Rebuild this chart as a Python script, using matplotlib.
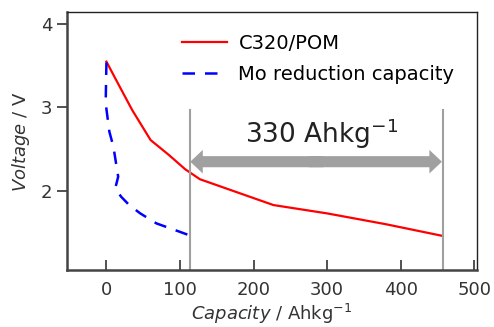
import matplotlib
matplotlib.use("Agg")
import matplotlib.pyplot as plt
from matplotlib.patches import FancyArrowPatch

# C320/POM discharge curve
cap_red = [0, 15, 35, 60, 85, 107, 127, 227, 300, 380, 457]
volt_red = [3.55, 3.30, 2.97, 2.61, 2.43, 2.26, 2.14, 1.83, 1.73, 1.60, 1.46]

# Mo reduction capacity
cap_blue = [0, -1, 4, 9.5, 16, 12, 20, 31, 46, 68, 87, 112]
volt_blue = [3.54, 3.05, 2.71, 2.53, 2.17, 2.03, 1.93, 1.83, 1.73, 1.61, 1.55, 1.47]

x_start, x_end = 113, 457
arrow_y = 2.35
label = "330 Ahkg$^{-1}$"

fig = plt.figure(figsize=(4.94, 3.27), dpi=100)
ax = fig.add_axes([0.135, 0.174, 0.831, 0.788])

ax.plot(cap_red, volt_red, color="#ff0000", lw=1.6, label="C320/POM")
ax.plot(cap_blue, volt_blue, color="#0000ff", lw=1.8, dashes=(5, 4),
        label="Mo reduction capacity")

# capacity range markers
for xv in (x_start, x_end):
    ax.plot([xv, xv], [1.05, 2.97], color="#a0a0a0", lw=1.5)
mid = (x_start + x_end) / 2
style = "simple,tail_width=0.8,head_width=1.7,head_length=0.9"
for start, end in ((mid + 10, x_start + 1), (mid - 10, x_end - 1)):
    ax.add_patch(FancyArrowPatch((start, arrow_y), (end, arrow_y), arrowstyle=style,
                                 mutation_scale=10, color="#a0a0a0", lw=0,
                                 shrinkA=0, shrinkB=0))
ax.text(mid + 8, 2.68, label, ha="center", va="center",
        fontsize=19, color="#222222")

ax.set_xlim(-54, 504)
ax.set_ylim(1.05, 4.14)
ax.set_xticks([0, 100, 200, 300, 400, 500])
ax.set_yticks([2, 3, 4])
ax.tick_params(axis="x", direction="in", length=7, width=1.2, labelsize=13,
               pad=8, colors="#333333")
ax.tick_params(axis="y", direction="out", length=7, width=1.2, labelsize=13,
               colors="#333333")
for s in ("left", "bottom"):
    ax.spines[s].set_linewidth(1.8)
    ax.spines[s].set_color("#444444")
for s in ("top", "right"):
    ax.spines[s].set_linewidth(1.0)
    ax.spines[s].set_color("#222222")

ax.set_ylabel(r"$\it{Voltage}$ / V", fontsize=13, color="#333333", labelpad=6)
ax.set_xlabel(r"$\it{Capacity}$ / Ahkg$^{-1}$", fontsize=13, color="#333333",
              labelpad=2)

ax.legend(loc="upper left", frameon=False, fontsize=14, handlelength=2.3,
          handletextpad=0.6, labelspacing=0.6, borderpad=0, borderaxespad=0,
          bbox_to_anchor=(182 / 494, 1 - 34 / 327),
          bbox_transform=fig.transFigure)

fig.savefig("out.png", dpi=100)
